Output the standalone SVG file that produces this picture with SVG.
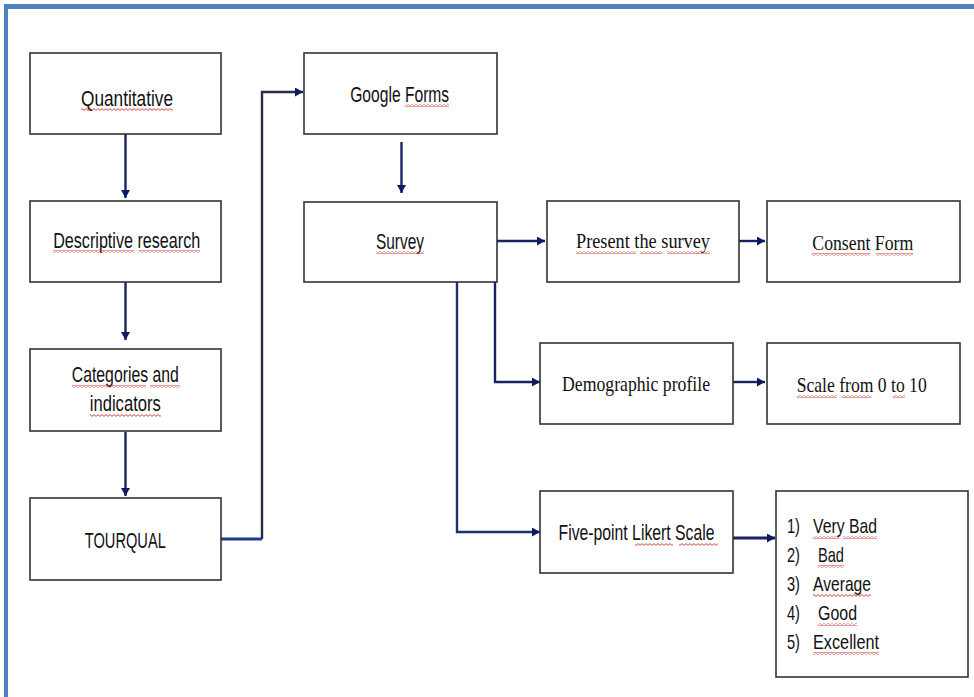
<svg xmlns="http://www.w3.org/2000/svg" width="974" height="697" viewBox="0 0 974 697">
<style>
.box{fill:#fff;stroke:#333;stroke-width:1.6}
.t{font-family:"Liberation Sans",Arial,sans-serif;font-size:22px;fill:#111;text-anchor:middle}
.ts{font-family:"Liberation Serif","Times New Roman",serif;font-size:22px;fill:#111;text-anchor:middle}
.tl{font-family:"Liberation Sans",Arial,sans-serif;font-size:21px;fill:#111}
.c{fill:none;stroke:#1b2260;stroke-width:2.4;marker-end:url(#ah)}
.cn{fill:none;stroke:#1b2260;stroke-width:2.4}
.sq{fill:url(#sqp)}
</style>
<defs>
<marker id="ah" markerUnits="userSpaceOnUse" markerWidth="9" markerHeight="9" refX="8" refY="4.5" orient="auto">
<path d="M0,0 L8,4.5 L0,9 z" fill="#0d1b5e"/>
</marker>
<pattern id="sqp" patternUnits="userSpaceOnUse" width="4" height="3">
<path d="M0,2.4 L2,0.6 L4,2.4" fill="none" stroke="#d03030" stroke-width="0.9"/>
</pattern>
</defs>
<rect width="974" height="697" fill="#fff"/>
<!-- frame -->
<rect x="4" y="4" width="970" height="5" fill="#4f81bd"/>
<rect x="4" y="4" width="4" height="693" fill="#4f81bd"/>

<g id="connectors">
<path class="c" d="M125.5,134 V198"/>
<path class="c" d="M125.5,282 V340"/>
<path class="c" d="M125.5,432 V496"/>
<path class="cn" d="M221,539 H262" style="stroke:#1f3c8c;stroke-width:3"/>
<path class="c" d="M262,539 V92 H303" style="stroke:#2a2d45"/>
<path class="c" d="M401.5,142 V193"/>
<path class="c" d="M497,241 H545"/>
<path class="c" d="M739,241 H765"/>
<path class="c" d="M495,260 V382 H540"/>
<path class="c" d="M733,382 H765"/>
<path class="c" d="M457,282 V532 H540" style="stroke:#1f3070"/>
<path class="c" d="M704,538 H775" style="stroke-width:3"/>
</g>

<g id="quantitative">
<rect class="box" x="30" y="53" width="191" height="81"/>
<text class="t" x="127" y="106" textLength="92" lengthAdjust="spacingAndGlyphs">Quantitative</text>
<rect class="sq" x="81" y="108" width="92" height="3"/>
</g>
<g id="descriptive">
<rect class="box" x="30" y="201" width="191" height="81"/>
<text class="t" x="126.7" y="248" textLength="147" lengthAdjust="spacingAndGlyphs">Descriptive research</text>
<rect class="sq" x="53" y="250" width="81" height="3"/>
<rect class="sq" x="139" y="250" width="61" height="3"/>
</g>
<g id="categories">
<rect class="box" x="30" y="349" width="191" height="82"/>
<text class="t" x="125.3" y="382" textLength="107" lengthAdjust="spacingAndGlyphs">Categories and</text>
<text class="t" x="125.3" y="411" textLength="71" lengthAdjust="spacingAndGlyphs">indicators</text>
<rect class="sq" x="72" y="385" width="74" height="3"/>
<rect class="sq" x="150" y="385" width="30" height="3"/>
<rect class="sq" x="90" y="414" width="71" height="3"/>
</g>
<g id="tourqual">
<rect class="box" x="30" y="498" width="191" height="82"/>
<text class="t" x="125.3" y="548" textLength="81" lengthAdjust="spacingAndGlyphs">TOURQUAL</text>
</g>
<g id="google-forms">
<rect class="box" x="304" y="53" width="193" height="81"/>
<text class="t" x="399.7" y="102" textLength="99" lengthAdjust="spacingAndGlyphs">Google Forms</text>
<rect class="sq" x="405" y="104" width="44" height="3"/>
</g>
<g id="survey">
<rect class="box" x="304" y="202" width="193" height="80"/>
<text class="t" x="400" y="249" textLength="48" lengthAdjust="spacingAndGlyphs">Survey</text>
<rect class="sq" x="376" y="251" width="48" height="3"/>
</g>
<g id="present">
<rect class="box" x="547" y="201" width="192" height="81"/>
<text class="ts" x="643" y="248" textLength="134" lengthAdjust="spacingAndGlyphs">Present the survey</text>
<rect class="sq" x="576" y="251" width="60" height="3"/>
<rect class="sq" x="640" y="251" width="22" height="3"/>
<rect class="sq" x="667" y="251" width="43" height="3"/>
</g>
<g id="consent">
<rect class="box" x="767" y="201" width="193" height="81"/>
<text class="ts" x="862.8" y="250" textLength="101" lengthAdjust="spacingAndGlyphs">Consent Form</text>
<rect class="sq" x="812" y="253" width="58" height="3"/>
<rect class="sq" x="876" y="253" width="37" height="3"/>
</g>
<g id="demographic">
<rect class="box" x="540" y="343" width="193" height="81"/>
<text class="ts" x="636" y="391" textLength="148" lengthAdjust="spacingAndGlyphs">Demographic profile</text>
</g>
<g id="scale">
<rect class="box" x="767" y="343" width="193" height="81"/>
<text class="ts" x="861.7" y="392" textLength="130" lengthAdjust="spacingAndGlyphs">Scale from 0 to 10</text>
<rect class="sq" x="797" y="395" width="40" height="3"/>
<rect class="sq" x="842" y="395" width="29" height="3"/>
<rect class="sq" x="893" y="395" width="12" height="3"/>
</g>
<g id="likert">
<rect class="box" x="540" y="491" width="193" height="82"/>
<text class="t" x="636.5" y="540" textLength="156" lengthAdjust="spacingAndGlyphs">Five-point Likert Scale</text>
<rect class="sq" x="635" y="543" width="38" height="3"/>
<rect class="sq" x="679" y="543" width="39" height="3"/>
</g>
<g id="likert-list">
<rect class="box" x="776" y="491" width="192" height="186"/>
<text class="tl" x="787" y="533" textLength="13" lengthAdjust="spacingAndGlyphs">1)</text>
<text class="tl" x="813" y="533" textLength="64" lengthAdjust="spacingAndGlyphs">Very Bad</text>
<text class="tl" x="787" y="562" textLength="13" lengthAdjust="spacingAndGlyphs">2)</text>
<text class="tl" x="818" y="562" textLength="26" lengthAdjust="spacingAndGlyphs">Bad</text>
<text class="tl" x="787" y="591" textLength="13" lengthAdjust="spacingAndGlyphs">3)</text>
<text class="tl" x="813" y="591" textLength="58" lengthAdjust="spacingAndGlyphs">Average</text>
<text class="tl" x="787" y="620" textLength="13" lengthAdjust="spacingAndGlyphs">4)</text>
<text class="tl" x="818" y="620" textLength="39" lengthAdjust="spacingAndGlyphs">Good</text>
<text class="tl" x="787" y="649" textLength="13" lengthAdjust="spacingAndGlyphs">5)</text>
<text class="tl" x="813" y="649" textLength="66" lengthAdjust="spacingAndGlyphs">Excellent</text>
<rect class="sq" x="813" y="536" width="26" height="3"/>
<rect class="sq" x="843" y="536" width="34" height="3"/>
<rect class="sq" x="818" y="565" width="26" height="3"/>
<rect class="sq" x="813" y="594" width="58" height="3"/>
<rect class="sq" x="818" y="623" width="39" height="3"/>
<rect class="sq" x="813" y="652" width="66" height="3"/>
</g>
</svg>
